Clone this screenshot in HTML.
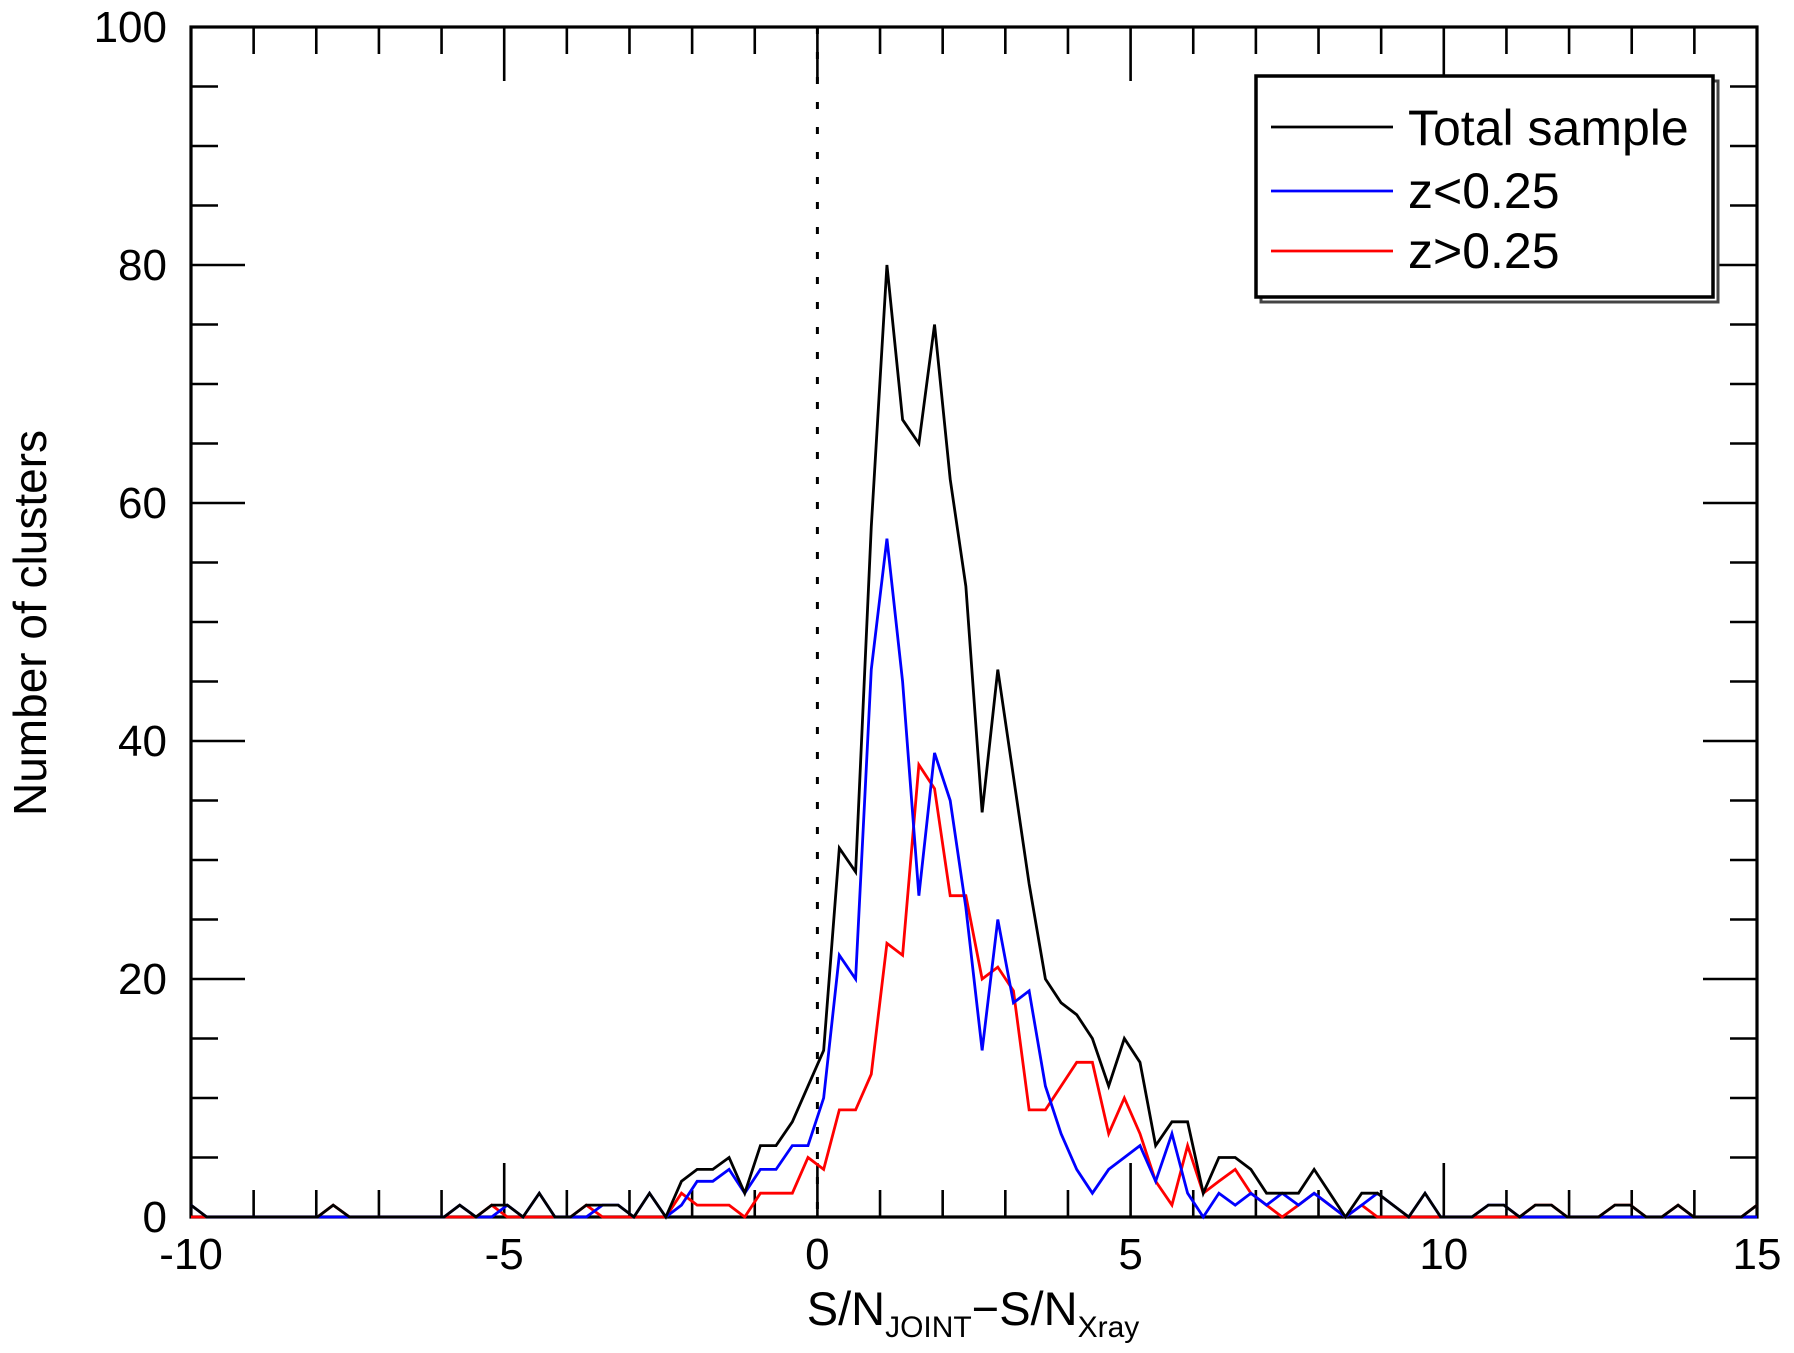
<!DOCTYPE html>
<html><head><meta charset="utf-8"><style>
html,body{margin:0;padding:0;background:#fff;}
svg{display:block;font-family:"Liberation Sans",Arial,sans-serif;}
</style></head><body>
<svg id="chart" width="1794" height="1353" viewBox="0 0 1794 1353" xmlns="http://www.w3.org/2000/svg">
<rect x="0" y="0" width="1794" height="1353" fill="#fff"/>
<g id="axes"></g>
<g id="series"></g>
<g id="legend">
  <rect x="1261" y="81" width="457" height="221" fill="#fff" stroke="#444" stroke-width="3"/>
  <rect x="1256" y="76" width="457" height="221" fill="#fff" stroke="#000" stroke-width="3.5"/>
  <line x1="1271" y1="127" x2="1393" y2="127" stroke="#000" stroke-width="2.8"/>
  <text x="1408" y="145" font-size="50">Total sample</text>
  <line x1="1271" y1="191" x2="1393" y2="191" stroke="#00f" stroke-width="2.8"/>
  <text x="1408" y="208" font-size="50">z&lt;0.25</text>
  <line x1="1271" y1="251" x2="1393" y2="251" stroke="#f00" stroke-width="2.8"/>
  <text x="1408" y="268" font-size="50">z&gt;0.25</text>
</g>
<text x="973" y="1325" font-size="47" text-anchor="middle">S/N<tspan font-size="30" dy="12">JOINT</tspan><tspan dy="-12">−S/N</tspan><tspan font-size="30" dy="12">Xray</tspan></text>
<text transform="translate(46,623) rotate(-90)" font-size="46" text-anchor="middle">Number of clusters</text>
</svg>
<script>
const binCenters = [-10.00,-9.75,-9.49,-9.24,-8.99,-8.74,-8.48,-8.23,-7.98,-7.73,-7.47,-7.22,-6.97,-6.72,-6.46,-6.21,-5.96,-5.71,-5.45,-5.20,-4.95,-4.70,-4.44,-4.19,-3.94,-3.69,-3.43,-3.18,-2.93,-2.68,-2.42,-2.17,-1.92,-1.67,-1.41,-1.16,-0.91,-0.66,-0.40,-0.15,0.10,0.35,0.61,0.86,1.11,1.36,1.62,1.87,2.12,2.37,2.63,2.88,3.13,3.38,3.64,3.89,4.14,4.39,4.65,4.90,5.15,5.40,5.66,5.91,6.16,6.41,6.67,6.92,7.17,7.42,7.68,7.93,8.18,8.43,8.69,8.94,9.19,9.44,9.70,9.95,10.20,10.45,10.71,10.96,11.21,11.46,11.72,11.97,12.22,12.47,12.73,12.98,13.23,13.48,13.74,13.99,14.24,14.49,14.75,15.00];
const totalCounts = [1,0,0,0,0,0,0,0,0,1,0,0,0,0,0,0,0,1,0,1,1,0,2,0,0,1,1,1,0,2,0,3,4,4,5,2,6,6,8,11,14,31,29,58,80,67,65,75,62,53,34,46,37,28,20,18,17,15,11,15,13,6,8,8,2,5,5,4,2,2,2,4,2,0,2,2,1,0,2,0,0,0,1,1,0,1,1,0,0,0,1,1,0,0,1,0,0,0,0,1];
const lowZCounts = [1,0,0,0,0,0,0,0,0,0,0,0,0,0,0,0,0,1,0,0,1,0,2,0,0,0,1,1,0,2,0,1,3,3,4,2,4,4,6,6,10,22,20,46,57,45,27,39,35,26,14,25,18,19,11,7,4,2,4,5,6,3,7,2,0,2,1,2,1,2,1,2,1,0,1,2,1,0,2,0,0,0,1,1,0,0,0,0,0,0,0,0,0,0,0,0,0,0,0,0];
const highZCounts = [0,0,0,0,0,0,0,0,0,1,0,0,0,0,0,0,0,0,0,1,0,0,0,0,0,1,0,0,0,0,0,2,1,1,1,0,2,2,2,5,4,9,9,12,23,22,38,36,27,27,20,21,19,9,9,11,13,13,7,10,7,3,1,6,2,3,4,2,1,0,1,2,1,0,1,0,0,0,0,0,0,0,0,0,0,1,1,0,0,0,1,1,0,0,1,0,0,0,0,1];
const xTickLabels = ["-10","-5","0","5","10","15"];
const yTickLabels = ["0","20","40","60","80","100"];

const X0=191, X1=1757, Y0=1217, Y1=27;
const XMIN=-10, XMAX=15, YMIN=0, YMAX=100;
function xs(v){return X0+(v-XMIN)/(XMAX-XMIN)*(X1-X0);}
function ys(v){return Y0-(v-YMIN)/(YMAX-YMIN)*(Y0-Y1);}
const NS="http://www.w3.org/2000/svg";
function mk(tag,attrs,parent){const e=document.createElementNS(NS,tag);for(const k in attrs)e.setAttribute(k,attrs[k]);parent.appendChild(e);return e;}

const axes=document.getElementById('axes');
// ticks
for(let v=XMIN; v<=XMAX; v++){
  const major = v%5===0; const L = major?54:27; const x=xs(v);
  const t1=mk('line',{x1:x,y1:Y0,x2:x,y2:Y0-L,stroke:'#000','stroke-width':2.6},axes);
  
  
  const t2=mk('line',{x1:x,y1:Y1,x2:x,y2:Y1+L,stroke:'#000','stroke-width':2.6},axes);
  
  
}
for(let v=YMIN; v<=YMAX; v+=5){
  const major = v%20===0; const L = major?54:27; const y=ys(v);
  const t1=mk('line',{x1:X0,y1:y,x2:X0+L,y2:y,stroke:'#000','stroke-width':2.6},axes);
  
  
  const t2=mk('line',{x1:X1,y1:y,x2:X1-L,y2:y,stroke:'#000','stroke-width':2.6},axes);
  
  
}
xTickLabels.forEach(s=>{
  const t=mk('text',{x:xs(parseFloat(s)),y:1269,'font-size':44,'text-anchor':'middle'},axes);
  t.textContent=s;
  
  
});
yTickLabels.forEach(s=>{
  const t=mk('text',{x:167,y:ys(parseFloat(s))+15,'font-size':44,'text-anchor':'end'},axes);
  t.textContent=s;
  
  
});
// zero reference line
const zl=mk('line',{x1:xs(0),y1:Y1,x2:xs(0),y2:Y0,stroke:'#000','stroke-width':3,'stroke-dasharray':'7 18'},axes);



const series=document.getElementById('series');
function drawSeries(vals,color,name){
  const pts=vals.map((v,i)=>xs(binCenters[i]).toFixed(2)+','+ys(v).toFixed(2)).join(' ');
  const p=mk('polyline',{points:pts,fill:'none',stroke:color,'stroke-width':2.8,'stroke-linejoin':'miter'},series);
  
  
}
drawSeries(highZCounts,'#f00','series-high-z');
drawSeries(lowZCounts,'#00f','series-low-z');
drawSeries(totalCounts,'#000','series-total');

// frame
const fr=mk('rect',{x:X0,y:Y1,width:X1-X0,height:Y0-Y1,fill:'none',stroke:'#000','stroke-width':3.2},axes);


</script>
</body></html>
